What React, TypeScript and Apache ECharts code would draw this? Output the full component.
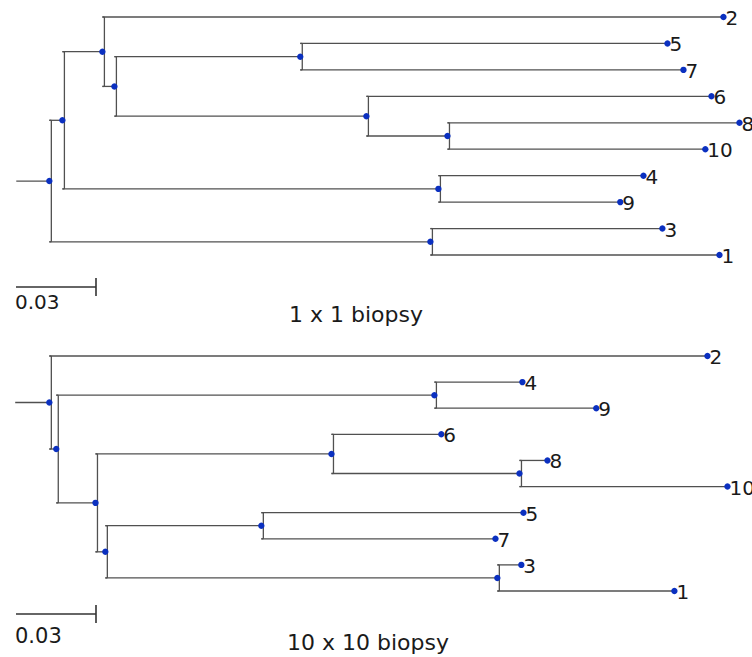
import React, { useEffect, useRef } from "react";
import * as echarts from "echarts";

// ---- Tree 1: "1 x 1 biopsy" ----
const topNodeIds = ["root", "A", "C", "E", "F", "G", "H", "D", "B", "2", "5", "7", "6", "8", "10", "4", "9", "3", "1"];
const topParents = ["", "root", "A", "C", "E", "E", "G", "A", "root", "C", "F", "F", "G", "H", "H", "D", "D", "B", "B"];
const topDepths = [0, 0.0049, 0.0199, 0.0244, 0.0941, 0.1189, 0.1493, 0.1459, 0.1429, 0.2528, 0.2318, 0.2378, 0.2483, 0.2588, 0.246, 0.2228, 0.2141, 0.2299, 0.2513];
const topLeafOrder = ["2", "5", "7", "6", "8", "10", "4", "9", "3", "1"];
const topStem = 0.0124;
const topTitle = "1 x 1 biopsy";

// ---- Tree 2: "10 x 10 biopsy" ----
const bottomNodeIds = ["root", "A", "D", "B", "G", "H", "E", "F", "I", "2", "4", "9", "6", "8", "10", "5", "7", "3", "1"];
const bottomParents = ["", "root", "A", "A", "B", "G", "B", "E", "E", "root", "D", "D", "G", "H", "H", "F", "F", "I", "I"];
const bottomDepths = [0, 0.0026, 0.1444, 0.0173, 0.1058, 0.1763, 0.021, 0.0795, 0.168, 0.2468, 0.1774, 0.2051, 0.147, 0.1868, 0.2543, 0.1778, 0.1673, 0.177, 0.2344];
const bottomLeafOrder = ["2", "4", "9", "6", "8", "10", "5", "7", "3", "1"];
const bottomStem = 0.0128;
const bottomTitle = "10 x 10 biopsy";

// scale bar
const scaleBarValue = 0.03;
const scaleBarLabel = "0.03";
const scaleBarRows = [10.21, 9.88];

const LINE = "#505050";
const DOT = "#0b30c0";
const FONT = '"DejaVu Sans", sans-serif';
const LW = 1.3;

function layout(ids: string[], parents: string[], depths: number[], leafOrder: string[], stem: number) {
  const idx: Record<string, number> = {};
  ids.forEach((id, i) => (idx[id] = i));
  const children: Record<string, string[]> = {};
  ids.forEach((id, i) => {
    const p = parents[i];
    if (p) (children[p] = children[p] || []).push(id);
  });
  const yOf: Record<string, number> = {};
  const ext: Record<string, [number, number]> = {};
  const calc = (id: string): number => {
    if (yOf[id] !== undefined) return yOf[id];
    const ch = children[id];
    if (!ch || ch.length === 0) {
      yOf[id] = leafOrder.indexOf(id);
      return yOf[id];
    }
    const ys = ch.map(calc);
    const lo = Math.min(...ys);
    const hi = Math.max(...ys);
    ext[id] = [lo, hi];
    yOf[id] = (lo + hi) / 2;
    return yOf[id];
  };
  ids.forEach(calc);
  return ids.map((id, i) => {
    const p = parents[i];
    const pd = p ? depths[idx[p]] : -stem;
    const leaf = !children[id] || children[id].length === 0;
    const e = ext[id] || [yOf[id], yOf[id]];
    return { name: id, value: [depths[i], yOf[id], pd, e[0], e[1], leaf ? 1 : 0] };
  });
}

function makeTreeRender(labels: string[]) {
  return (params: any, api: any) => {
    const x = api.value(0);
    const y = api.value(1);
    const px = api.value(2);
    const lo = api.value(3);
    const hi = api.value(4);
    const leaf = api.value(5) === 1;
    const p = api.coord([x, y]);
    const pp = api.coord([px, y]);
    const style = { stroke: LINE, lineWidth: LW };
    const els: any[] = [
      { type: "line", shape: { x1: pp[0], y1: p[1], x2: p[0], y2: p[1] }, style },
    ];
    if (!leaf) {
      const a = api.coord([x, lo]);
      const b = api.coord([x, hi]);
      const vx = p[0] + 2;
      els.push({ type: "line", shape: { x1: vx, y1: a[1], x2: vx, y2: b[1] }, style });
      els.push({ type: "line", shape: { x1: p[0], y1: a[1], x2: vx, y2: a[1] }, style });
      els.push({ type: "line", shape: { x1: p[0], y1: b[1], x2: vx, y2: b[1] }, style });
    }
    els.push({ type: "circle", shape: { cx: p[0], cy: p[1], r: 3.2 }, style: { fill: DOT } });
    if (leaf) {
      els.push({
        type: "text",
        x: p[0] + 2,
        y: p[1] + 1,
        style: {
          text: labels[params.dataIndex],
          fill: "#1a1a1a",
          font: `20px ${FONT}`,
          align: "left",
          verticalAlign: "middle",
        },
      });
    }
    return { type: "group", children: els };
  };
}

function makeScaleRender(labelOffset: number, fontSize: number) {
  return (params: any, api: any) => {
    const x0 = api.value(0);
    const y = api.value(1);
    const a = api.coord([x0, y]);
    const b = api.coord([x0 + scaleBarValue, y]);
    const st = { stroke: "#333", lineWidth: 1.6 };
    return {
      type: "group",
      children: [
        { type: "line", shape: { x1: a[0], y1: a[1], x2: b[0], y2: b[1] }, style: st },
        { type: "line", shape: { x1: b[0], y1: a[1] - 9, x2: b[0], y2: a[1] + 9 }, style: st },
        {
          type: "text",
          x: a[0] - 1,
          y: a[1] + labelOffset,
          style: { text: scaleBarLabel, fill: "#1a1a1a", font: `${fontSize}px ${FONT}`, align: "left", verticalAlign: "middle" },
        },
      ],
    };
  };
}

export default function App() {
  const ref = useRef<HTMLDivElement>(null);
  useEffect(() => {
    if (!ref.current) return;
    const chart = echarts.init(ref.current, undefined, { renderer: "svg" });
    const topData = layout(topNodeIds, topParents, topDepths, topLeafOrder, topStem);
    const bottomData = layout(bottomNodeIds, bottomParents, bottomDepths, bottomLeafOrder, bottomStem);
    const xMin = -0.0125;
    const xMax = 0.2575;
    chart.setOption({
      animation: false,
      grid: [
        { left: 16, width: 720, top: 17, height: 238 },
        { left: 16, width: 720, top: 356, height: 235 },
      ],
      xAxis: [
        { type: "value", gridIndex: 0, min: xMin, max: xMax, show: false },
        { type: "value", gridIndex: 1, min: xMin, max: xMax, show: false },
      ],
      yAxis: [
        { type: "value", gridIndex: 0, min: 0, max: 9, inverse: true, show: false },
        { type: "value", gridIndex: 1, min: 0, max: 9, inverse: true, show: false },
      ],
      series: [
        {
          type: "custom",
          xAxisIndex: 0,
          yAxisIndex: 0,
          renderItem: makeTreeRender(topNodeIds),
          data: topData,
          clip: false,
          silent: true,
        },
        {
          type: "custom",
          xAxisIndex: 1,
          yAxisIndex: 1,
          renderItem: makeTreeRender(bottomNodeIds),
          data: bottomData,
          clip: false,
          silent: true,
        },
        {
          type: "custom",
          xAxisIndex: 0,
          yAxisIndex: 0,
          renderItem: makeScaleRender(15, 20),
          data: [[-0.0125, scaleBarRows[0]]],
          clip: false,
          silent: true,
        },
        {
          type: "custom",
          xAxisIndex: 1,
          yAxisIndex: 1,
          renderItem: makeScaleRender(22, 21),
          data: [[-0.0125, scaleBarRows[1]]],
          clip: false,
          silent: true,
        },
      ],
      graphic: [
        {
          type: "text",
          x: 356,
          y: 314,
          style: { text: topTitle, fill: "#1a1a1a", font: `22px ${FONT}`, align: "center", verticalAlign: "middle" },
        },
        {
          type: "text",
          x: 368,
          y: 642,
          style: { text: bottomTitle, fill: "#1a1a1a", font: `22px ${FONT}`, align: "center", verticalAlign: "middle" },
        },
      ],
    });
    return () => chart.dispose();
  }, []);
  return (
    <div
      ref={ref}
      style={{ position: "fixed", left: 0, top: 0, width: 752, height: 657, background: "#fff" }}
    />
  );
}
